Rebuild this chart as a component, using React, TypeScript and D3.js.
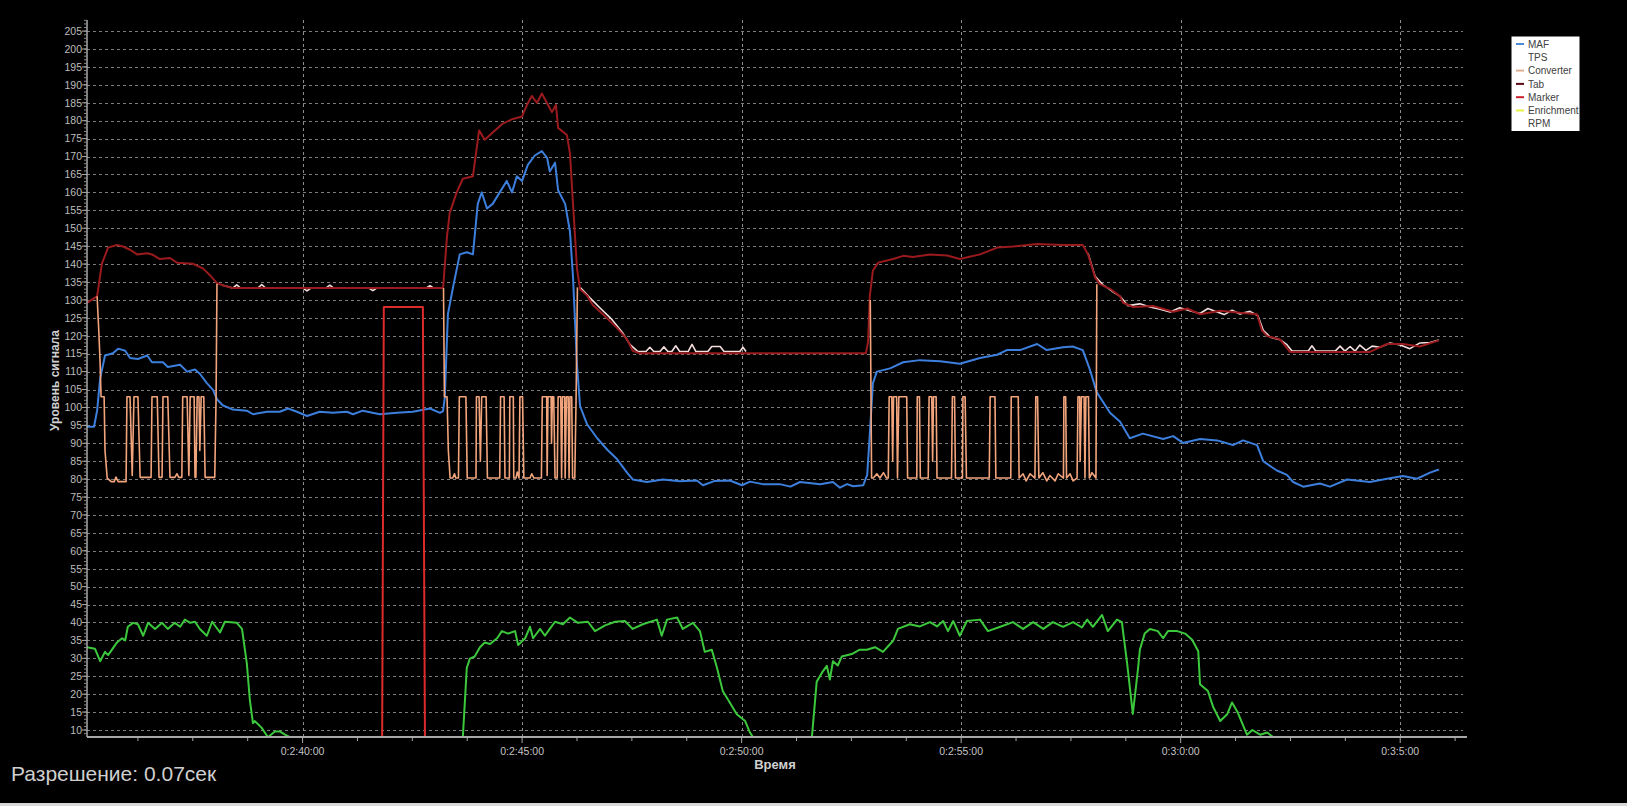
import React from 'react';
import * as d3 from 'd3';

type Pt = [number, number | null];

// time in seconds (0:2:40:00 = 160 s), value = signal level; null breaks the line
const tabSeries: Pt[] = [
  [155.09, 129.2], [155.32, 131], [155.43, 140.1], [155.57, 144.6], [155.77, 145.3], [155.91, 144.9],
  [156.07, 144], [156.23, 142.7], [156.46, 143], [156.57, 142.7], [156.75, 141.4], [156.98, 141.7],
  [157.14, 140.4], [157.5, 140.1], [157.73, 138.8], [157.89, 136.9], [158.05, 134.7], [158.18, 134.1],
  [158.41, 133.3], [163.2, 133.3], [163.29, 147.8], [163.35, 154.2], [163.51, 160], [163.65, 163.8],
  [163.88, 164.5], [164.02, 177.3], [164.15, 174.7], [164.33, 176.7], [164.56, 179.2], [164.79, 180.5],
  [165, 181.2], [165.11, 184.4], [165.22, 186.9], [165.34, 185], [165.45, 187.6], [165.59, 184.4],
  [165.68, 182.4], [165.77, 184.4], [165.82, 178], [166.02, 176], [166.09, 170.9], [166.16, 156.8],
  [166.25, 138.8], [166.32, 133], [166.48, 131.2], [166.61, 128.6], [166.84, 126], [167.16, 122.2],
  [167.39, 119], [167.52, 115.8], [167.68, 115.1], [172.83, 115.1], [172.88, 118.3], [172.92, 131.2],
  [172.99, 138.2], [173.11, 140.4], [173.45, 141.4], [173.68, 142.3], [173.9, 142], [174.29, 142.7],
  [174.68, 142.4], [174.97, 141.4], [175.43, 142.7], [175.82, 144.6], [176.18, 144.9], [176.73, 145.6],
  [177.32, 145.3], [177.77, 145.3], [177.89, 142.7], [178.05, 136.3], [178.16, 134.4], [178.39, 133.1],
  [178.62, 131], [178.69, 129.2], [178.92, 128], [179.37, 128.3], [179.83, 126.7], [180.15, 127.6],
  [180.44, 126], [180.9, 127], [181.35, 126.4], [181.74, 126], [181.85, 121.5], [181.97, 119.9],
  [182.26, 119], [182.49, 115.5], [184.31, 115.5], [184.7, 117.7], [185.06, 117.7], [185.45, 117],
  [185.88, 118.7],
];

const tpsSeries: Pt[] = [
  [158.18, 134.1], [158.41, 133.3], [158.5, 134.2], [158.59, 133.3], [158.98, 133.3], [159.07, 134.3],
  [159.16, 133.3], [160.01, 133.3], [160.1, 132.5], [160.19, 133.3], [160.53, 133.3], [160.62, 134.1],
  [160.71, 133.3], [161.51, 133.3], [161.6, 132.6], [161.69, 133.3], [162.81, 133.3], [162.9, 134],
  [162.99, 133.3], [163.22, 133.3], [163.25, null],
  [166.32, 133.5], [166.55, 130.5], [166.77, 127.8], [167.05, 124.5], [167.28, 121], [167.46, 117.5],
  [167.64, 115.6], [167.82, 115.6], [167.91, 116.8], [168, 115.6], [168.14, 115.6], [168.23, 116.9],
  [168.32, 115.6], [168.41, 115.6], [168.5, 117.2], [168.59, 115.6], [168.78, 115.6], [168.87, 117.6],
  [168.96, 115.6], [169.23, 115.6], [169.32, 117], [169.51, 117], [169.6, 115.6], [169.96, 115.6],
  [170.03, 116.8], [170.1, 115.6], [170.15, null],
  [177.89, 143], [178.05, 136.6], [178.23, 134.2], [178.43, 132.5], [178.62, 131], [178.8, 128.4],
  [179.07, 128.9], [179.3, 128], [179.53, 127.4], [179.76, 126.6], [179.98, 127.8], [180.21, 127],
  [180.44, 126.2], [180.62, 127.6], [180.8, 126.8], [180.99, 125.9], [181.17, 127.1], [181.35, 126.1],
  [181.58, 126.8], [181.76, 125.6], [181.88, 121.5], [182.04, 119.6], [182.26, 118.9], [182.42, 117.5],
  [182.54, 115.7], [182.9, 115.7], [182.99, 117.2], [183.08, 115.7], [183.52, 115.7], [183.63, 117.1],
  [183.74, 115.7], [183.86, 117], [183.97, 115.7], [184.08, 117.4], [184.22, 115.9], [184.36, 117.1],
  [184.54, 116.8], [184.77, 118], [185, 117.4], [185.22, 116.4], [185.45, 118], [185.68, 118.1],
  [185.88, 118.8],
];

const markerSeries: Pt[] = [
  [155.09, 0], [161.81, 0], [161.85, 128], [162.74, 128], [162.79, 0], [185.88, 0],
];

const mafSeries: Pt[] = [
  [155.09, 94.6], [155.25, 94.6], [155.32, 99.1], [155.39, 108.1], [155.5, 114.5], [155.68, 115.1],
  [155.8, 116.4], [155.96, 115.8], [156.07, 113.8], [156.25, 113.5], [156.46, 114.5], [156.57, 112.6],
  [156.82, 112.6], [156.93, 111.3], [157.21, 111.9], [157.37, 110], [157.55, 110.6], [157.66, 109.4],
  [157.82, 106.8], [157.96, 104.9], [158.05, 102.3], [158.18, 100.6], [158.41, 99.4], [158.73, 99.1],
  [158.87, 98.1], [159.19, 98.8], [159.48, 98.8], [159.67, 99.7], [159.87, 98.8], [160.1, 97.6],
  [160.39, 98.8], [160.69, 98.5], [161.01, 98.8], [161.15, 98.1], [161.37, 99.1], [161.76, 98.1],
  [162.15, 98.5], [162.51, 98.8], [162.9, 99.7], [163.13, 98.5], [163.2, 99], [163.24, 102.9],
  [163.31, 126], [163.43, 133.7], [163.58, 142.7], [163.74, 143.3], [163.88, 142.7], [163.99, 156.8],
  [164.08, 160], [164.2, 155.5], [164.33, 156.8], [164.49, 160], [164.65, 163.2], [164.77, 160],
  [164.88, 164.5], [165, 163.2], [165.13, 167.7], [165.29, 170.3], [165.45, 171.5], [165.57, 169.6],
  [165.63, 165.8], [165.75, 168.3], [165.82, 160.6], [165.98, 156.8], [166.09, 149.1], [166.16, 136.3],
  [166.25, 111.9], [166.32, 100.4], [166.48, 95.3], [166.71, 91.4], [166.94, 88.2], [167.16, 85.6],
  [167.39, 81.8], [167.52, 79.9], [167.84, 79.2], [168.21, 79.9], [168.59, 79.4], [168.98, 79.6],
  [169.12, 78.3], [169.39, 79.5], [169.73, 79.6], [170.01, 78.3], [170.19, 79.3], [170.48, 78.6],
  [170.87, 78.6], [171.11, 77.9], [171.33, 79.2], [171.79, 78.6], [172.08, 79.2], [172.24, 77.6],
  [172.4, 78.6], [172.54, 78], [172.77, 78.3], [172.86, 81.2], [172.92, 92.7], [172.99, 106.8],
  [173.08, 110], [173.38, 110.9], [173.68, 112.6], [174.06, 113.2], [174.52, 112.9], [174.97, 112.2],
  [175.43, 113.8], [175.82, 114.7], [176.04, 116], [176.34, 116], [176.73, 117.7], [176.95, 116],
  [177.32, 116.8], [177.54, 117], [177.77, 116], [177.93, 110.6], [178.09, 104.2], [178.39, 98.5],
  [178.62, 96], [178.84, 91.4], [179.14, 92.7], [179.6, 91.2], [179.83, 92], [180.05, 90.1],
  [180.44, 91.2], [180.83, 90.8], [181.19, 89.5], [181.42, 90.8], [181.74, 89.5], [181.88, 85],
  [182.19, 82.4], [182.42, 81.2], [182.56, 79.2], [182.79, 77.9], [183.17, 78.8], [183.4, 77.9],
  [183.79, 79.9], [184.31, 79.2], [184.7, 80.1], [185.06, 80.9], [185.38, 80.1], [185.68, 81.8],
  [185.88, 82.7],
];

const converterSeries: Pt[] = [
  [155.32, 131], [155.36, 121], [155.39, 112], [155.41, 103], [155.48, 103], [155.5, 88], [155.55, 80.3],
  [155.64, 79.3], [155.71, 79.3], [155.75, 80.6], [155.8, 79.3], [155.98, 79.3], [156, 103], [156.07, 103],
  [156.12, 81], [156.16, 103], [156.25, 103], [156.3, 80.5], [156.55, 80.5], [156.57, 103], [156.69, 103],
  [156.73, 80.5], [156.8, 80.5], [156.82, 103], [156.93, 103], [156.98, 80.5], [157.09, 80.5],
  [157.14, 81.5], [157.18, 80.5], [157.25, 80.5], [157.27, 103], [157.37, 103], [157.41, 81],
  [157.44, 103], [157.53, 103], [157.55, 80.5], [157.57, 80.5], [157.6, 103], [157.64, 103], [157.66, 88],
  [157.69, 103], [157.75, 103], [157.78, 80.5], [158, 80.5], [158.03, 103], [158.05, 134.5], [158.06, null],
  [163.21, 133.3], [163.23, 103], [163.29, 103], [163.32, 88], [163.36, 80.3], [163.42, 80.3],
  [163.46, 81.5], [163.49, 80.3], [163.55, 80.3], [163.57, 103], [163.72, 103], [163.75, 80.3],
  [163.95, 80.3], [163.96, 103], [164.02, 103], [164.05, 85], [164.08, 103], [164.18, 103], [164.21, 80.3],
  [164.49, 80.3], [164.51, 103], [164.59, 103], [164.61, 80.3], [164.71, 80.3], [164.72, 103],
  [164.8, 103], [164.81, 80.3], [164.86, 80.3], [164.89, 82], [164.93, 80.3], [164.95, 103], [165.01, 103],
  [165.04, 80.3], [165.18, 80.3], [165.22, 81.5], [165.27, 80.3], [165.44, 80.3], [165.46, 103],
  [165.56, 103], [165.57, 81], [165.59, 103], [165.66, 103], [165.67, 90], [165.69, 103], [165.72, 103],
  [165.75, 80.3], [165.8, 80.3], [165.82, 103], [165.88, 103], [165.9, 80.3], [165.92, 103], [165.97, 103],
  [165.98, 80.3], [166.01, 103], [166.05, 103], [166.07, 80.3], [166.09, 103], [166.13, 103],
  [166.15, 80.3], [166.2, 80.3], [166.23, 103], [166.26, 133.5], [166.27, null],
  [172.93, 130], [172.96, 80.3], [173, 80.3], [173.08, 81.5], [173.15, 80.3], [173.23, 81.8], [173.3, 80.3],
  [173.34, 80.3], [173.36, 103], [173.42, 103], [173.44, 85], [173.46, 103], [173.53, 103], [173.55, 80.3],
  [173.58, 103], [173.76, 103], [173.78, 80.3], [173.99, 80.3], [174, 103], [174.05, 103], [174.07, 80.3],
  [174.25, 80.3], [174.27, 103], [174.33, 103], [174.35, 85], [174.37, 103], [174.43, 103], [174.45, 80.3],
  [174.78, 80.3], [174.8, 103], [174.85, 103], [174.87, 80.3], [175.03, 80.3], [175.04, 103],
  [175.09, 103], [175.12, 80.3], [175.64, 80.3], [175.66, 103], [175.77, 103], [175.79, 80.3],
  [176.13, 80.3], [176.14, 103], [176.3, 103], [176.32, 80.3], [176.41, 81.5], [176.48, 79.5],
  [176.57, 81.5], [176.68, 80.3], [176.7, 103], [176.74, 103], [176.77, 80.3], [176.86, 81.8],
  [176.95, 79.5], [177.02, 81], [177.14, 79.5], [177.21, 81.5], [177.33, 80.3], [177.34, 103],
  [177.38, 103], [177.4, 80.3], [177.48, 81.5], [177.55, 79.5], [177.64, 80.3], [177.66, 103], [177.7, 103],
  [177.71, 85], [177.74, 103], [177.8, 103], [177.82, 80.3], [177.84, 103], [177.9, 103], [177.92, 80.3],
  [177.98, 81.8], [178.07, 80.3], [178.09, 134.4],
];

const rpmSeries: Pt[] = [
  [155.09, 33.1], [155.27, 32.7], [155.39, 29.2], [155.5, 31.8], [155.57, 30.9], [155.77, 34.4],
  [155.89, 35.6], [155.96, 35], [156.02, 38.8], [156.14, 39.9], [156.25, 39.5], [156.37, 36.3],
  [156.48, 39.9], [156.64, 38.2], [156.8, 39.9], [156.93, 38.2], [157.09, 39.9], [157.21, 38.8],
  [157.32, 40.8], [157.44, 39.9], [157.55, 40.2], [157.66, 38.2], [157.82, 36.3], [157.94, 40.2],
  [158.12, 37.2], [158.23, 40.2], [158.5, 39.9], [158.62, 38.2], [158.73, 28.6], [158.8, 18.3],
  [158.87, 11.9], [158.91, 12.5], [159.07, 10.6], [159.21, 8], [159.37, 9.6], [159.48, 9.6],
  [159.6, 8.7], [159.71, 8], [159.85, 0], [163.54, 0], [163.65, 8], [163.74, 27.3], [163.81, 29.9],
  [163.92, 30.5], [164.04, 33.1], [164.15, 34.4], [164.27, 34], [164.43, 35.6], [164.54, 37.6],
  [164.68, 36.9], [164.84, 37.6], [164.91, 33.7], [165.07, 35.6], [165.18, 38.8], [165.25, 35.6],
  [165.41, 38.2], [165.52, 36.3], [165.63, 38.2], [165.75, 40.2], [165.93, 39.5], [166.09, 41.4],
  [166.27, 39.9], [166.5, 40.2], [166.66, 37.6], [166.89, 39.2], [167.12, 40.2], [167.34, 40.4],
  [167.52, 38.2], [167.75, 39.5], [168.07, 40.8], [168.18, 36.3], [168.3, 40.8], [168.53, 41.4],
  [168.66, 38.2], [168.89, 39.9], [169.05, 37.6], [169.16, 31.8], [169.32, 32.4], [169.44, 27.3],
  [169.57, 20.9], [169.73, 17.7], [169.89, 14.4], [170.08, 12.5], [170.19, 9.3], [170.26, 8],
  [170.38, 0], [171.49, 0], [171.6, 8], [171.71, 23.5], [171.83, 26], [171.94, 27.9], [172.01, 24.1],
  [172.08, 29.2], [172.19, 28], [172.28, 30.5], [172.51, 31.2], [172.69, 32.4], [172.85, 32.4],
  [173.04, 33.1], [173.22, 31.8], [173.45, 34.9], [173.56, 38.2], [173.83, 39.5], [174.06, 38.9],
  [174.29, 40.1], [174.45, 38.9], [174.59, 40.4], [174.7, 37.6], [174.82, 40.4], [174.97, 36.3],
  [175.13, 40.4], [175.43, 40.8], [175.61, 37.6], [175.89, 38.8], [176.18, 40.1], [176.41, 38.2],
  [176.64, 40.1], [176.87, 38.2], [177.09, 40.1], [177.32, 38.8], [177.55, 40.1], [177.75, 38.6],
  [177.87, 40.8], [178, 38.8], [178.21, 42.1], [178.34, 37.6], [178.55, 40.8], [178.66, 40.1],
  [178.78, 28.6], [178.91, 14.5], [179.03, 27.3], [179.07, 32.4], [179.18, 36.9], [179.3, 38.2],
  [179.48, 37.6], [179.6, 35.6], [179.71, 37.6], [179.92, 37.6], [180.1, 36.9], [180.26, 35.2],
  [180.4, 32], [180.44, 22.8], [180.62, 20.9], [180.74, 16.4], [180.9, 12.5], [181.06, 14.4],
  [181.17, 17.7], [181.29, 15.1], [181.4, 11.9], [181.51, 8.7], [181.63, 10], [181.81, 8.7],
  [181.97, 9.3], [182.11, 8], [182.22, 0], [185.88, 0],
];

const legendNames = ['MAF', 'TPS', 'Converter', 'Tab', 'Marker', 'Enrichment', 'RPM'];
const legendColors = ['#4a8ad8', '#ffffff', '#e0b090', '#5a0a10', '#c81e2a', '#e8f040', '#ffffff'];

const xTicks = [160, 165, 170, 175, 180, 185];
const yTicks = d3.range(10, 206, 5);

const W = 1627;
const H = 806;
const left = 87;
const right = 1463;
const top = 20;
const bottom = 737;

const x = d3.scaleLinear().domain([155.09, 186.43]).range([left, right]);
const y = d3.scaleLinear().domain([8.05, 208.1]).range([bottom, top]);

const line = d3
  .line<Pt>()
  .defined((d) => d[1] !== null)
  .x((d) => x(d[0]))
  .y((d) => y(d[1] as number));

const fmtTime = (t: number) => `0:${Math.floor(t / 60)}:${Math.round(t % 60)}:00`;

const font = "Arial, 'Liberation Sans', sans-serif";

const App = () => {
  const minorY = d3.range(9, 209, 1);
  const minorX = d3.range(156.25, 186.43, 1.25).filter((t) => !xTicks.includes(t));

  const series: { data: Pt[]; color: string; width: number }[] = [
    { data: rpmSeries, color: '#3cc83c', width: 2 },
    { data: tpsSeries, color: '#f4dede', width: 1.6 },
    { data: tabSeries, color: '#9a1a1e', width: 2 },
    { data: mafSeries, color: '#3d7fdc', width: 2 },
    { data: converterSeries, color: '#f2a47c', width: 1.6 },
    { data: markerSeries, color: '#dd2a2a', width: 2 },
  ];

  return (
    <svg
      width={W}
      height={H}
      viewBox={`0 0 ${W} ${H}`}
      style={{ position: 'absolute', left: 0, top: 0, display: 'block', background: '#000' }}
      fontFamily={font}
    >
      <rect x={0} y={0} width={W} height={H} fill="#000" />
      <defs>
        <clipPath id="plot">
          <rect x={left} y={top} width={right - left} height={bottom - top} />
        </clipPath>
      </defs>

      {/* grid */}
      <g stroke="#7c7c7c" strokeWidth={1} strokeDasharray="3,3">
        {yTicks.map((v) => (
          <line key={v} x1={left} x2={right} y1={Math.round(y(v)) + 0.5} y2={Math.round(y(v)) + 0.5} />
        ))}
      </g>
      <g stroke="#8c8c8c" strokeWidth={1} strokeDasharray="3,3">
        {xTicks.map((t) => (
          <line key={t} x1={Math.round(x(t)) + 0.5} x2={Math.round(x(t)) + 0.5} y1={top} y2={bottom} />
        ))}
      </g>

      {/* series */}
      <g clipPath="url(#plot)" fill="none" strokeLinejoin="round">
        {series.map((s, i) => (
          <path key={i} d={line(s.data) || ''} stroke={s.color} strokeWidth={s.width} />
        ))}
      </g>

      {/* y axis */}
      <line x1={left} x2={left} y1={top} y2={bottom} stroke="#a8a8a8" strokeWidth={1.5} />
      <g stroke="#8a8a8a" strokeWidth={1}>
        {minorY.map((v) => (
          <line key={v} x1={left - 3} x2={left} y1={y(v)} y2={y(v)} />
        ))}
      </g>
      <g stroke="#a8a8a8" strokeWidth={1}>
        {yTicks.map((v) => (
          <line key={v} x1={left - 5} x2={left} y1={y(v)} y2={y(v)} />
        ))}
      </g>
      <g fill="#bdbdbd" fontSize={10.5} textAnchor="end">
        {yTicks.map((v) => (
          <text key={v} x={left - 5} y={y(v)} dy="0.36em">
            {v}
          </text>
        ))}
      </g>
      <text
        transform={`translate(55, ${(top + bottom) / 2 + 2}) rotate(-90)`}
        textAnchor="middle"
        dy="0.36em"
        fill="#d0d0d0"
        fontSize={12}
        fontWeight="bold"
      >
        Уровень сигнала
      </text>

      {/* x axis */}
      <line x1={left} x2={1467} y1={bottom} y2={bottom} stroke="#a8a8a8" strokeWidth={2} />
      <g stroke="#a8a8a8" strokeWidth={1}>
        {minorX.map((t) => (
          <line key={t} x1={x(t)} x2={x(t)} y1={bottom} y2={bottom + 4} />
        ))}
        {xTicks.map((t) => (
          <line key={t} x1={x(t)} x2={x(t)} y1={bottom} y2={bottom + 6} />
        ))}
      </g>
      <g fill="#c4c4c4" fontSize={10.5} textAnchor="middle">
        {xTicks.map((t) => (
          <text key={t} x={x(t)} y={754.5}>
            {fmtTime(t)}
          </text>
        ))}
      </g>
      <text x={(left + right) / 2} y={769} textAnchor="middle" fill="#d0d0d0" fontSize={13} fontWeight="bold">
        Время
      </text>

      {/* legend */}
      <g>
        <rect x={1511.5} y={36.5} width={68} height={94.5} fill="#fff" />
        {legendNames.map((n, i) => (
          <g key={n} transform={`translate(1516, ${44 + i * 13.3})`}>
            <line x1={0} x2={8} y1={0} y2={0} stroke={legendColors[i]} strokeWidth={2} />
            <text x={12} y={0} dy="0.36em" fontSize={10} fill="#404040">
              {n}
            </text>
          </g>
        ))}
      </g>

      <text x={11} y={781} fill="#cfcfcf" fontSize={21}>
        Разрешение: 0.07сек
      </text>
      <rect x={0} y={803} width={W} height={3} fill="#d8d8d8" />
    </svg>
  );
};

export default App;
